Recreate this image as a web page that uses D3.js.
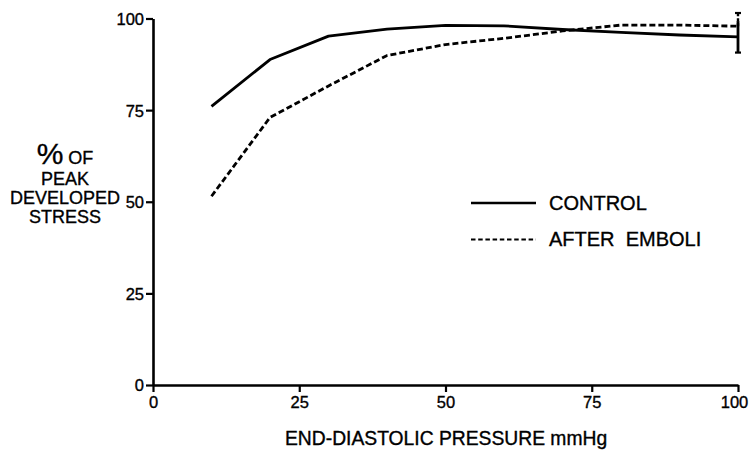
<!DOCTYPE html>
<html>
<head>
<meta charset="utf-8">
<script src="https://d3js.org/d3.v7.min.js"></script>
<style>
  html, body { margin: 0; padding: 0; background: #fff; }
  svg text { font-family: "Liberation Sans", Arial, sans-serif; fill: #000; stroke: #000; stroke-width: 0.35px; }
</style>
</head>
<body>
<svg id="chart" width="750" height="450"></svg>
<script>
// End-diastolic pressure (mmHg) at which stress was measured
const pressure = [10, 20, 30, 40, 50, 60, 70, 80, 90, 100];
// % of peak developed stress
const control = [76.0, 88.8, 95.2, 97.1, 98.1, 98.0, 97.0, 96.2, 95.5, 95.0];
const afterEmboli = [51.5, 73.0, 81.6, 89.9, 92.9, 94.6, 96.6, 98.2, 98.2, 97.9];
// Standard error at the last point of each curve
const controlErr = 4.3;
const afterErr = 3.6;

const xTicks = [0, 25, 50, 75, 100];
const yTicks = [0, 25, 50, 75, 100];
const seriesNames = ["CONTROL", "AFTER  EMBOLI"];

const svg = d3.select("#chart");
const x = d3.scaleLinear().domain([0, 100]).range([153, 738]);
const y = d3.scaleLinear().domain([0, 100]).range([385, 18.5]);

// Axes
const xAxis = svg.append("g")
  .attr("transform", `translate(0,${y(0)})`)
  .call(d3.axisBottom(x).tickValues(xTicks).tickSize(7).tickPadding(4).tickSizeOuter(0));
const yAxis = svg.append("g")
  .attr("transform", `translate(${x(0)},0)`)
  .call(d3.axisLeft(y).tickValues(yTicks).tickSize(7).tickPadding(2).tickSizeOuter(0));

[xAxis, yAxis].forEach(g => {
  g.select(".domain").attr("stroke", "#000").attr("stroke-width", 2.6);
  g.selectAll(".tick line").attr("stroke", "#000").attr("stroke-width", 2.2);
  g.selectAll(".tick text").style("font-size", "16.5px").attr("fill", "#000");
});
xAxis.selectAll(".tick text").attr("dy", "0.75em");
// keep the last label inside the frame
xAxis.selectAll(".tick text").filter(d => d === 100).attr("dx", -4);
yAxis.selectAll(".tick text").attr("dy", "0.36em");

// Curves
const line = d3.line().x(d => x(d[0])).y(d => y(d[1]));
svg.append("path")
  .datum(d3.zip(pressure, control))
  .attr("d", line)
  .attr("fill", "none").attr("stroke", "#000").attr("stroke-width", 2.8)
  .attr("stroke-linejoin", "round");
svg.append("path")
  .datum(d3.zip(pressure, afterEmboli))
  .attr("d", line)
  .attr("fill", "none").attr("stroke", "#000").attr("stroke-width", 2.8)
  .attr("stroke-dasharray", "6,3");

// Error bars at the final point
const xe = x(pressure[pressure.length - 1]);
const cLast = control[control.length - 1];
const aLast = afterEmboli[afterEmboli.length - 1];
svg.append("line")
  .attr("x1", xe).attr("x2", xe)
  .attr("y1", y(cLast + controlErr)).attr("y2", y(cLast - controlErr))
  .attr("stroke", "#000").attr("stroke-width", 2.8);
svg.append("line")
  .attr("x1", xe - 3).attr("x2", xe + 3)
  .attr("y1", y(cLast - controlErr)).attr("y2", y(cLast - controlErr))
  .attr("stroke", "#000").attr("stroke-width", 2.2);
svg.append("line")
  .attr("x1", xe).attr("x2", xe)
  .attr("y1", y(aLast)).attr("y2", y(aLast + afterErr))
  .attr("stroke", "#000").attr("stroke-width", 2.4)
  .attr("stroke-dasharray", "3,2");
svg.append("line")
  .attr("x1", xe - 3).attr("x2", xe + 3)
  .attr("y1", y(aLast + afterErr)).attr("y2", y(aLast + afterErr))
  .attr("stroke", "#000").attr("stroke-width", 2.2);

// Legend
const legend = svg.append("g");
seriesNames.forEach((name, i) => {
  const ly = 203 + i * 36.5;
  legend.append("line")
    .attr("x1", 471).attr("x2", 536).attr("y1", ly).attr("y2", ly)
    .attr("stroke", "#000").attr("stroke-width", i === 0 ? 2.4 : 2)
    .attr("stroke-dasharray", i === 0 ? null : "4.5,2.7");
  legend.append("text")
    .attr("x", 549).attr("y", ly + 6.5)
    .attr("xml:space", "preserve")
    .style("font-size", "20px")
    .text(name);
});

// Y axis title
const yt = svg.append("text").attr("text-anchor", "middle");
yt.append("tspan").attr("x", 65).attr("y", 164)
  .style("font-size", "30px").text("%");
yt.append("tspan").style("font-size", "18px").text(" OF");
["PEAK", "DEVELOPED", "STRESS"].forEach((t, i) => {
  svg.append("text").attr("text-anchor", "middle")
    .attr("x", 65).attr("y", 185 + i * 19)
    .style("font-size", "18px").text(t);
});

// X axis title
svg.append("text")
  .attr("x", 285).attr("y", 445)
  .style("font-size", "19.3px")
  .text("END-DIASTOLIC PRESSURE mmHg");
</script>
</body>
</html>
